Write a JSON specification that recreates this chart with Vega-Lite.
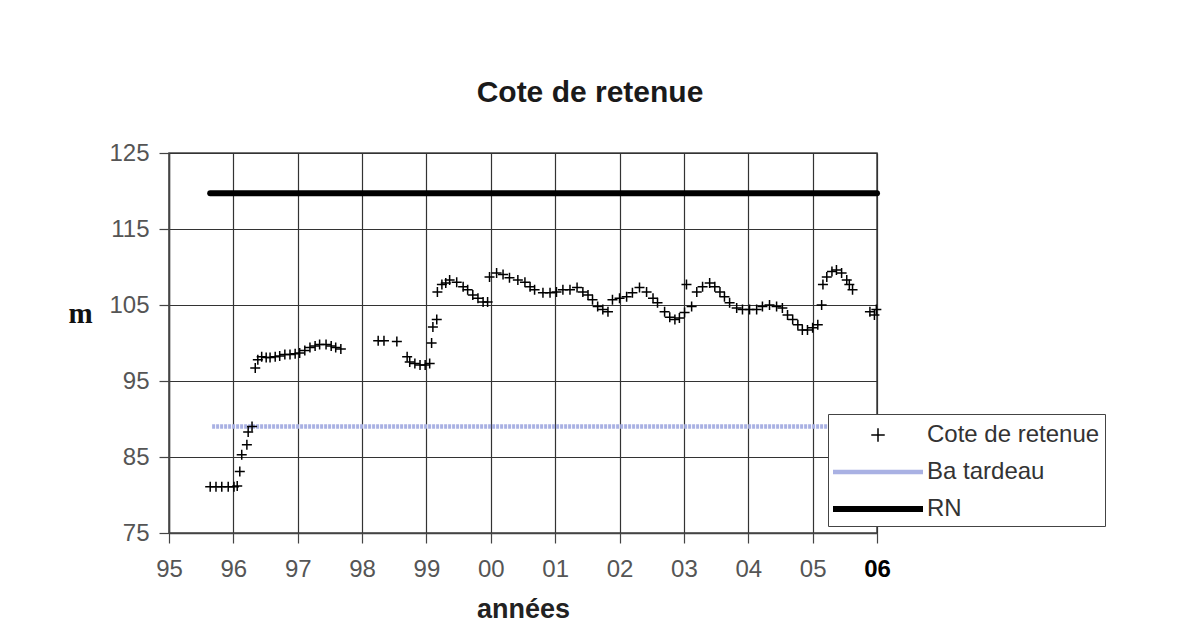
{
  "$schema": "https://vega.github.io/schema/vega-lite/v6.json",
  "width": 708,
  "height": 380,
  "autosize": "none",
  "padding": {"left": 169, "top": 153, "right": 322, "bottom": 105},
  "background": "white",
  "title": {
    "text": "Cote de retenue",
    "frame": "group",
    "anchor": "middle",
    "dx": 67,
    "offset": 9,
    "baseline": "alphabetic",
    "font": "Liberation Sans",
    "fontSize": 30,
    "fontWeight": "bold",
    "color": "#1a1a1a"
  },
  "datasets": {
    "cote": [
      {"x": 1995.64, "y": 81.1, "series": "Cote de retenue"},
      {"x": 1995.73, "y": 81.1, "series": "Cote de retenue"},
      {"x": 1995.82, "y": 81.1, "series": "Cote de retenue"},
      {"x": 1995.92, "y": 81.1, "series": "Cote de retenue"},
      {"x": 1996.01, "y": 81.1, "series": "Cote de retenue"},
      {"x": 1996.06, "y": 81.2, "series": "Cote de retenue"},
      {"x": 1996.10, "y": 83.1, "series": "Cote de retenue"},
      {"x": 1996.13, "y": 85.3, "series": "Cote de retenue"},
      {"x": 1996.21, "y": 86.6, "series": "Cote de retenue"},
      {"x": 1996.23, "y": 88.3, "series": "Cote de retenue"},
      {"x": 1996.29, "y": 89.0, "series": "Cote de retenue"},
      {"x": 1996.34, "y": 96.7, "series": "Cote de retenue"},
      {"x": 1996.38, "y": 97.8, "series": "Cote de retenue"},
      {"x": 1996.44, "y": 98.2, "series": "Cote de retenue"},
      {"x": 1996.51, "y": 98.1, "series": "Cote de retenue"},
      {"x": 1996.57, "y": 98.1, "series": "Cote de retenue"},
      {"x": 1996.65, "y": 98.2, "series": "Cote de retenue"},
      {"x": 1996.72, "y": 98.3, "series": "Cote de retenue"},
      {"x": 1996.80, "y": 98.5, "series": "Cote de retenue"},
      {"x": 1996.88, "y": 98.5, "series": "Cote de retenue"},
      {"x": 1996.96, "y": 98.6, "series": "Cote de retenue"},
      {"x": 1997.03, "y": 98.7, "series": "Cote de retenue"},
      {"x": 1997.11, "y": 99.0, "series": "Cote de retenue"},
      {"x": 1997.19, "y": 99.4, "series": "Cote de retenue"},
      {"x": 1997.27, "y": 99.6, "series": "Cote de retenue"},
      {"x": 1997.34, "y": 99.8, "series": "Cote de retenue"},
      {"x": 1997.44, "y": 99.8, "series": "Cote de retenue"},
      {"x": 1997.52, "y": 99.6, "series": "Cote de retenue"},
      {"x": 1997.59, "y": 99.4, "series": "Cote de retenue"},
      {"x": 1997.67, "y": 99.2, "series": "Cote de retenue"},
      {"x": 1998.25, "y": 100.3, "series": "Cote de retenue"},
      {"x": 1998.34, "y": 100.3, "series": "Cote de retenue"},
      {"x": 1998.54, "y": 100.2, "series": "Cote de retenue"},
      {"x": 1998.70, "y": 98.2, "series": "Cote de retenue"},
      {"x": 1998.74, "y": 97.5, "series": "Cote de retenue"},
      {"x": 1998.82, "y": 97.3, "series": "Cote de retenue"},
      {"x": 1998.90, "y": 97.1, "series": "Cote de retenue"},
      {"x": 1998.98, "y": 97.1, "series": "Cote de retenue"},
      {"x": 1999.05, "y": 97.3, "series": "Cote de retenue"},
      {"x": 1999.08, "y": 100.0, "series": "Cote de retenue"},
      {"x": 1999.10, "y": 102.1, "series": "Cote de retenue"},
      {"x": 1999.16, "y": 103.1, "series": "Cote de retenue"},
      {"x": 1999.17, "y": 106.7, "series": "Cote de retenue"},
      {"x": 1999.24, "y": 107.7, "series": "Cote de retenue"},
      {"x": 1999.30, "y": 107.9, "series": "Cote de retenue"},
      {"x": 1999.36, "y": 108.3, "series": "Cote de retenue"},
      {"x": 1999.47, "y": 108.0, "series": "Cote de retenue"},
      {"x": 1999.57, "y": 107.4, "series": "Cote de retenue"},
      {"x": 1999.64, "y": 107.0, "series": "Cote de retenue"},
      {"x": 1999.72, "y": 106.3, "series": "Cote de retenue"},
      {"x": 1999.80, "y": 105.9, "series": "Cote de retenue"},
      {"x": 1999.88, "y": 105.4, "series": "Cote de retenue"},
      {"x": 1999.95, "y": 105.4, "series": "Cote de retenue"},
      {"x": 1999.98, "y": 108.7, "series": "Cote de retenue"},
      {"x": 2000.09, "y": 109.2, "series": "Cote de retenue"},
      {"x": 2000.19, "y": 109.0, "series": "Cote de retenue"},
      {"x": 2000.29, "y": 108.6, "series": "Cote de retenue"},
      {"x": 2000.42, "y": 108.3, "series": "Cote de retenue"},
      {"x": 2000.53, "y": 108.0, "series": "Cote de retenue"},
      {"x": 2000.61, "y": 107.4, "series": "Cote de retenue"},
      {"x": 2000.68, "y": 107.0, "series": "Cote de retenue"},
      {"x": 2000.81, "y": 106.6, "series": "Cote de retenue"},
      {"x": 2000.92, "y": 106.6, "series": "Cote de retenue"},
      {"x": 2001.02, "y": 106.7, "series": "Cote de retenue"},
      {"x": 2001.12, "y": 107.0, "series": "Cote de retenue"},
      {"x": 2001.23, "y": 107.0, "series": "Cote de retenue"},
      {"x": 2001.34, "y": 107.3, "series": "Cote de retenue"},
      {"x": 2001.43, "y": 106.7, "series": "Cote de retenue"},
      {"x": 2001.51, "y": 106.3, "series": "Cote de retenue"},
      {"x": 2001.58, "y": 105.7, "series": "Cote de retenue"},
      {"x": 2001.66, "y": 104.8, "series": "Cote de retenue"},
      {"x": 2001.74, "y": 104.4, "series": "Cote de retenue"},
      {"x": 2001.82, "y": 104.1, "series": "Cote de retenue"},
      {"x": 2001.89, "y": 105.7, "series": "Cote de retenue"},
      {"x": 2002.00, "y": 105.9, "series": "Cote de retenue"},
      {"x": 2002.11, "y": 106.1, "series": "Cote de retenue"},
      {"x": 2002.20, "y": 106.6, "series": "Cote de retenue"},
      {"x": 2002.31, "y": 107.3, "series": "Cote de retenue"},
      {"x": 2002.42, "y": 106.7, "series": "Cote de retenue"},
      {"x": 2002.52, "y": 105.9, "series": "Cote de retenue"},
      {"x": 2002.59, "y": 105.3, "series": "Cote de retenue"},
      {"x": 2002.70, "y": 104.1, "series": "Cote de retenue"},
      {"x": 2002.78, "y": 103.4, "series": "Cote de retenue"},
      {"x": 2002.86, "y": 103.1, "series": "Cote de retenue"},
      {"x": 2002.93, "y": 103.3, "series": "Cote de retenue"},
      {"x": 2003.01, "y": 104.0, "series": "Cote de retenue"},
      {"x": 2003.04, "y": 107.7, "series": "Cote de retenue"},
      {"x": 2003.12, "y": 104.8, "series": "Cote de retenue"},
      {"x": 2003.20, "y": 106.7, "series": "Cote de retenue"},
      {"x": 2003.29, "y": 107.4, "series": "Cote de retenue"},
      {"x": 2003.40, "y": 107.9, "series": "Cote de retenue"},
      {"x": 2003.48, "y": 107.4, "series": "Cote de retenue"},
      {"x": 2003.56, "y": 106.7, "series": "Cote de retenue"},
      {"x": 2003.63, "y": 106.1, "series": "Cote de retenue"},
      {"x": 2003.71, "y": 105.3, "series": "Cote de retenue"},
      {"x": 2003.82, "y": 104.6, "series": "Cote de retenue"},
      {"x": 2003.91, "y": 104.4, "series": "Cote de retenue"},
      {"x": 2004.02, "y": 104.4, "series": "Cote de retenue"},
      {"x": 2004.13, "y": 104.4, "series": "Cote de retenue"},
      {"x": 2004.22, "y": 104.8, "series": "Cote de retenue"},
      {"x": 2004.33, "y": 105.0, "series": "Cote de retenue"},
      {"x": 2004.44, "y": 104.8, "series": "Cote de retenue"},
      {"x": 2004.53, "y": 104.6, "series": "Cote de retenue"},
      {"x": 2004.61, "y": 103.7, "series": "Cote de retenue"},
      {"x": 2004.69, "y": 103.1, "series": "Cote de retenue"},
      {"x": 2004.77, "y": 102.4, "series": "Cote de retenue"},
      {"x": 2004.84, "y": 101.7, "series": "Cote de retenue"},
      {"x": 2004.92, "y": 101.7, "series": "Cote de retenue"},
      {"x": 2005.00, "y": 102.0, "series": "Cote de retenue"},
      {"x": 2005.08, "y": 102.4, "series": "Cote de retenue"},
      {"x": 2005.14, "y": 105.0, "series": "Cote de retenue"},
      {"x": 2005.16, "y": 107.7, "series": "Cote de retenue"},
      {"x": 2005.22, "y": 108.7, "series": "Cote de retenue"},
      {"x": 2005.30, "y": 109.4, "series": "Cote de retenue"},
      {"x": 2005.37, "y": 109.6, "series": "Cote de retenue"},
      {"x": 2005.45, "y": 109.2, "series": "Cote de retenue"},
      {"x": 2005.53, "y": 108.3, "series": "Cote de retenue"},
      {"x": 2005.57, "y": 107.7, "series": "Cote de retenue"},
      {"x": 2005.62, "y": 107.0, "series": "Cote de retenue"},
      {"x": 2005.89, "y": 104.1, "series": "Cote de retenue"},
      {"x": 2005.96, "y": 103.7, "series": "Cote de retenue"},
      {"x": 2005.99, "y": 104.4, "series": "Cote de retenue"}
    ],
    "ba": [
      {"x": 1995.67, "x2": 2006, "y": 89.0, "series": "Ba tardeau"}
    ],
    "rn": [
      {"x": 1995.64, "x2": 2006, "y": 119.7, "series": "RN"}
    ]
  },
  "layer": [
    {
      "data": {"name": "ba"},
      "mark": {"type": "rule", "strokeWidth": 4.5, "strokeDash": [3, 1], "clip": true},
      "encoding": {
        "x": {"field": "x", "type": "quantitative"},
        "x2": {"field": "x2"},
        "y": {"field": "y", "type": "quantitative"},
        "color": {"field": "series", "type": "nominal"}
      }
    },
    {
      "data": {"name": "rn"},
      "mark": {"type": "rule", "strokeWidth": 6, "strokeCap": "round"},
      "encoding": {
        "x": {"field": "x", "type": "quantitative"},
        "x2": {"field": "x2"},
        "y": {"field": "y", "type": "quantitative"},
        "color": {"field": "series", "type": "nominal"}
      }
    },
    {
      "data": {"name": "cote"},
      "mark": {"type": "point", "size": 494, "filled": false, "strokeWidth": 1.5, "opacity": 1},
      "encoding": {
        "x": {
          "field": "x", "type": "quantitative",
          "scale": {"domain": [1995, 2006], "nice": false, "zero": false},
          "axis": {
            "title": "années",
            "values": [1995, 1996, 1997, 1998, 1999, 2000, 2001, 2002, 2003, 2004, 2005, 2006],
            "labelExpr": "slice('0' + (datum.value % 100), -2)",
            "labelFontWeight": {"condition": {"test": "datum.value == 2006", "value": "bold"}, "value": "normal"},
            "labelColor": {"condition": {"test": "datum.value == 2006", "value": "#000000"}, "value": "#555555"},
            "labelPadding": 14,
            "titleY": 84,
            "titleBaseline": "alphabetic",
            "titleFontSize": 27
          }
        },
        "y": {
          "field": "y", "type": "quantitative",
          "scale": {"domain": [75, 125], "nice": false, "zero": false},
          "axis": {
            "title": "m",
            "values": [75, 85, 95, 105, 115, 125],
            "titleAngle": 0,
            "titleX": -89,
            "titleY": 169,
            "titleAlign": "center",
            "titleBaseline": "alphabetic",
            "titleFont": "Liberation Serif",
            "titleFontSize": 29,
            "titleColor": "#111111",
            "labelPadding": 10
          }
        },
        "shape": {
          "field": "series", "type": "nominal",
          "scale": {
            "domain": ["Cote de retenue", "Ba tardeau", "RN"],
            "range": [
              "M-0.45,0H0.45M0,-0.45V0.45",
              "M-3,-0.1H3M-3,0H3M-3,0.1H3",
              "M-3,-0.15H3M-3,-0.075H3M-3,0H3M-3,0.075H3M-3,0.15H3"
            ]
          },
          "legend": null
        },
        "color": {
          "field": "series", "type": "nominal",
          "scale": {"domain": ["Cote de retenue", "Ba tardeau", "RN"], "range": ["#000000", "#a9b1e3", "#000000"]},
          "legend": {
            "title": null,
            "orient": "none",
            "legendX": 659,
            "legendY": 261,
            "direction": "vertical",
            "padding": 5,
            "strokeColor": "#444444",
            "fillColor": "#ffffff",
            "symbolSize": 900,
            "symbolStrokeWidth": 1.5,
            "symbolOffset": 29,
            "labelOffset": 33,
            "labelLimit": 400,
            "rowPadding": 9,
            "labelFont": "Liberation Sans",
            "labelFontSize": 24,
            "labelColor": "#333333"
          }
        }
      }
    }
  ],
  "config": {
    "view": {"stroke": "#444444", "strokeWidth": 1.5},
    "font": "Liberation Sans",
    "axis": {
      "labelFont": "Liberation Sans",
      "labelFontSize": 24,
      "labelColor": "#555555",
      "titleFont": "Liberation Sans",
      "titleFontWeight": "bold",
      "titleColor": "#222222",
      "grid": true,
      "gridColor": "#333333",
      "gridWidth": 1.2,
      "gridOpacity": 1,
      "domainColor": "#444444",
      "domainWidth": 1.5,
      "tickColor": "#444444",
      "tickSize": 10,
      "tickWidth": 1.2,
      "labelFlush": false,
      "labelOverlap": false
    }
  }
}
